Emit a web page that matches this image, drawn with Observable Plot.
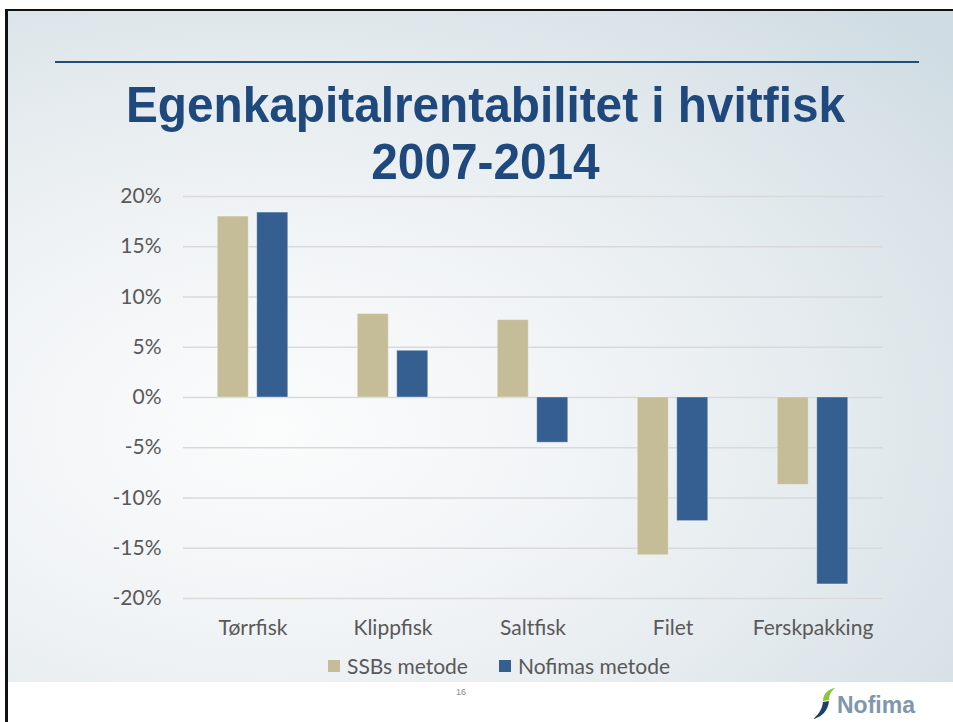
<!DOCTYPE html>
<html>
<head>
<meta charset="utf-8">
<script src="https://cdn.jsdelivr.net/npm/d3@7"></script>
<script src="https://cdn.jsdelivr.net/npm/@observablehq/plot@0.6"></script>
<style>
  html, body { margin:0; padding:0; width:953px; height:722px; overflow:hidden; background:#fff; }
  #slide { position:absolute; left:8px; top:11px; width:945px; height:671px;
    background: radial-gradient(ellipse 95% 85% at 28% 62%, #fbfcfc 0%, #f1f4f6 35%, #e1e8ec 70%, #cfdce3 100%); }
  #borderTop { position:absolute; left:5px; top:9px; width:948px; height:2px; background:#111; }
  #borderLeft { position:absolute; left:5px; top:9px; width:3px; height:713px; background:#111; }
  #rule { position:absolute; left:55px; top:61px; width:864px; height:2px; background:#1f4e79; }
  #title { position:absolute; left:0; top:77px; width:971px; text-align:center;
    font-family:"Liberation Sans", Arial, sans-serif; font-weight:bold; font-size:50px; line-height:57px;
    color:#1f497d; margin:0; transform:scaleX(0.955); transform-origin:485.5px 0; }
  #chart { position:absolute; left:0; top:176px; }
  #legend { position:absolute; left:328px; top:652px; display:flex; gap:31px;
    font-family:Lato, sans-serif; font-size:21px; color:#595959; line-height:28px; }
  .item { display:flex; align-items:center; gap:7px; }
  .sw { width:12px; height:12px; display:inline-block; }
  #page { position:absolute; left:456px; top:687px; font-family:"Liberation Sans", Arial, sans-serif; font-size:9px; color:#8a8a8a; }
  #logo { position:absolute; left:812px; top:686px; }
</style>
</head>
<body>
<div id="slide"></div>
<div id="borderTop"></div>
<div id="borderLeft"></div>
<div id="rule"></div>
<h1 id="title">Egenkapitalrentabilitet i hvitfisk<br>2007-2014</h1>
<div id="chart"></div>
<div id="legend"></div>
<div id="page">16</div>
<svg id="logo" width="115" height="36" viewBox="0 0 115 36">
  <path d="M23 2 C16 3 11 8 11 15 L17 14 C17 9 19 5 23 2 Z" fill="#8cc63f"/>
  <path d="M11 16 L17 15 C16 25 10 31 1 33 C6 29 10 24 11 16 Z" fill="#1f3f6a"/>
  <text x="25" y="27" font-family="Liberation Sans, Arial, sans-serif" font-weight="bold" font-size="23" fill="#8096ac">Nofima</text>
</svg>
<script>
const categories = ["Tørrfisk", "Klippfisk", "Saltfisk", "Filet", "Ferskpakking"];
const ssbValues = [18.0, 8.3, 7.7, -15.7, -8.7];
const nofimaValues = [18.4, 4.65, -4.5, -12.3, -18.6];
const seriesNames = ["SSBs metode", "Nofimas metode"];
const seriesColors = ["#c4bd97", "#355f91"];
const yTicks = [-20, -15, -10, -5, 0, 5, 10, 15, 20];

const data = categories.map((c, i) => ({category: c, ssb: ssbValues[i], nofima: nofimaValues[i]}));

const chart = Plot.plot({
  width: 953,
  height: 468,
  marginLeft: 183,
  marginRight: 70,
  marginTop: 20,
  marginBottom: 46,
  style: {background: "transparent", fontFamily: "Lato, sans-serif", fontSize: "21px", color: "#595959", overflow: "visible"},
  x: {domain: categories, paddingInner: 0.775, paddingOuter: 0.3875, label: null},
  y: {domain: [-20, 20], label: null},
  marks: [
    Plot.ruleY(yTicks, {stroke: "#d9d9d9", strokeWidth: 1.5}),
    Plot.barY(data, {x: "category", y: "ssb", fill: seriesColors[0], dx: -19.75, stroke: "#ffffff", strokeOpacity: 0.35, strokeWidth: 1}),
    Plot.barY(data, {x: "category", y: "nofima", fill: seriesColors[1], dx: 19.75, stroke: "#ffffff", strokeOpacity: 0.35, strokeWidth: 1}),
    Plot.axisY({ticks: yTicks, tickSize: 0, tickPadding: 22, tickFormat: d => d + "%", fill: "#595959", label: null}),
    Plot.axisX({tickSize: 0, tickPadding: 22, fill: "#595959", label: null})
  ]
});
document.getElementById("chart").appendChild(chart);

const legend = document.getElementById("legend");
seriesNames.forEach((name, i) => {
  const item = document.createElement("div");
  item.className = "item";
  const sw = document.createElement("span");
  sw.className = "sw";
  sw.style.background = seriesColors[i];
  const label = document.createElement("span");
  label.textContent = name;
  item.appendChild(sw);
  item.appendChild(label);
  legend.appendChild(item);
});
</script>
</body>
</html>
